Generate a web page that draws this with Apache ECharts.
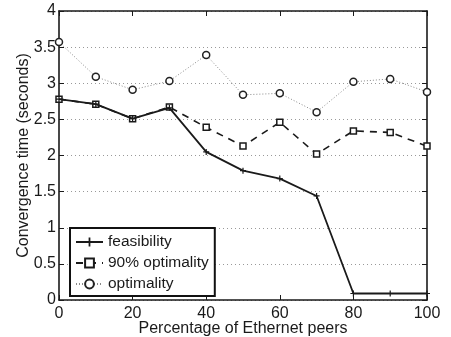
<!DOCTYPE html>
<html>
<head>
<meta charset="utf-8">
<script src="https://cdn.jsdelivr.net/npm/echarts@6/dist/echarts.min.js"></script>
<style>
  html, body { margin: 0; padding: 0; background: #fff; }
  #chart { width: 451px; height: 337px; }
</style>
</head>
<body>
<div id="chart"></div>
<script>
// x: percentage of Ethernet peers
var xValues = [0, 10, 20, 30, 40, 50, 60, 70, 80, 90, 100]
// convergence time (seconds)
var feasibility = [2.78, 2.71, 2.51, 2.66, 2.05, 1.79, 1.68, 1.44, 0.09, 0.09, 0.09]
var optimality90 = [2.78, 2.71, 2.51, 2.67, 2.39, 2.13, 2.46, 2.02, 2.34, 2.32, 2.13]
var optimality = [3.57, 3.09, 2.91, 3.03, 3.39, 2.84, 2.86, 2.60, 3.02, 3.06, 2.88]
var seriesNames = ['feasibility', '90% optimality', 'optimality']

var fontFamily = 'Liberation Sans, Arial, sans-serif'
var axisColor = '#1a1a1a'
var textColor = '#1a1a1a'

function pairs(ys) {
  return xValues.map(function (x, i) { return [x, ys[i]] })
}

var chart = echarts.init(document.getElementById('chart'))

var baseX = {
  type: 'value',
  min: 0,
  max: 100,
  interval: 20,
  axisLine: { show: true, onZero: false, lineStyle: { color: axisColor, width: 1.6 } },
  axisTick: { show: true, inside: true, length: 5, lineStyle: { color: axisColor } },
  splitLine: { show: false }
}
var baseY = {
  type: 'value',
  min: 0,
  max: 4,
  interval: 0.5,
  axisLine: { show: true, onZero: false, lineStyle: { color: axisColor, width: 1.6 } },
  axisTick: { show: true, inside: true, length: 5, lineStyle: { color: axisColor } }
}

chart.setOption({
  animation: false,
  textStyle: { fontFamily: fontFamily },
  grid: { left: 59, right: 24, top: 11, bottom: 37, outerBoundsMode: 'none', containLabel: false },
  xAxis: [
    Object.assign({}, baseX, {
      position: 'bottom',
      name: 'Percentage of Ethernet peers',
      nameLocation: 'middle',
      nameGap: 21,
      nameMoveOverlap: false,
      nameTextStyle: { fontSize: 16, color: textColor },
      axisLabel: { fontSize: 16, color: textColor, margin: 6 }
    }),
    Object.assign({}, baseX, {
      position: 'top',
      axisLabel: { show: false }
    })
  ],
  yAxis: [
    Object.assign({}, baseY, {
      position: 'left',
      name: 'Convergence time (seconds)',
      nameLocation: 'middle',
      nameGap: 27,
      nameMoveOverlap: false,
      nameTextStyle: { fontSize: 16, color: textColor },
      axisLabel: {
        fontSize: 16,
        color: textColor,
        margin: 3,
        formatter: function (v) { return String(v) }
      },
      splitLine: { show: true, lineStyle: { color: '#999', type: [1, 3], width: 1 } }
    }),
    Object.assign({}, baseY, {
      position: 'right',
      axisLabel: { show: false },
      splitLine: { show: false }
    })
  ],
  legend: {
    orient: 'vertical',
    left: 70,
    top: 228,
    width: 145,
    data: seriesNames,
    backgroundColor: '#fff',
    borderColor: '#111',
    borderWidth: 2,
    borderRadius: 0,
    padding: [6, 6, 4, 5],
    itemGap: 5,
    itemWidth: 27,
    itemHeight: 11,
    textStyle: { fontSize: 15.5, color: textColor, fontFamily: fontFamily }
  },
  series: [
    {
      name: seriesNames[2],
      type: 'line',
      data: pairs(optimality),
      symbol: 'circle',
      symbolSize: 7,
      itemStyle: { color: '#fff', borderColor: '#222', borderWidth: 1.5 },
      lineStyle: { color: '#888', width: 1, type: [1, 2] },
      z: 3
    },
    {
      name: seriesNames[1],
      type: 'line',
      data: pairs(optimality90),
      symbol: 'rect',
      symbolSize: 6,
      itemStyle: { color: '#fff', borderColor: '#1a1a1a', borderWidth: 1.5 },
      lineStyle: { color: '#1a1a1a', width: 1.6, type: [7, 6] },
      z: 4
    },
    {
      name: seriesNames[0],
      type: 'line',
      data: pairs(feasibility),
      symbol: 'path://M4,0 L6,0 L6,4 L10,4 L10,6 L6,6 L6,10 L4,10 L4,6 L0,6 L0,4 L4,4 Z',
      symbolSize: 6,
      itemStyle: { color: '#1a1a1a' },
      lineStyle: { color: '#1a1a1a', width: 1.8 },
      z: 5
    }
  ]
})
</script>
</body>
</html>
